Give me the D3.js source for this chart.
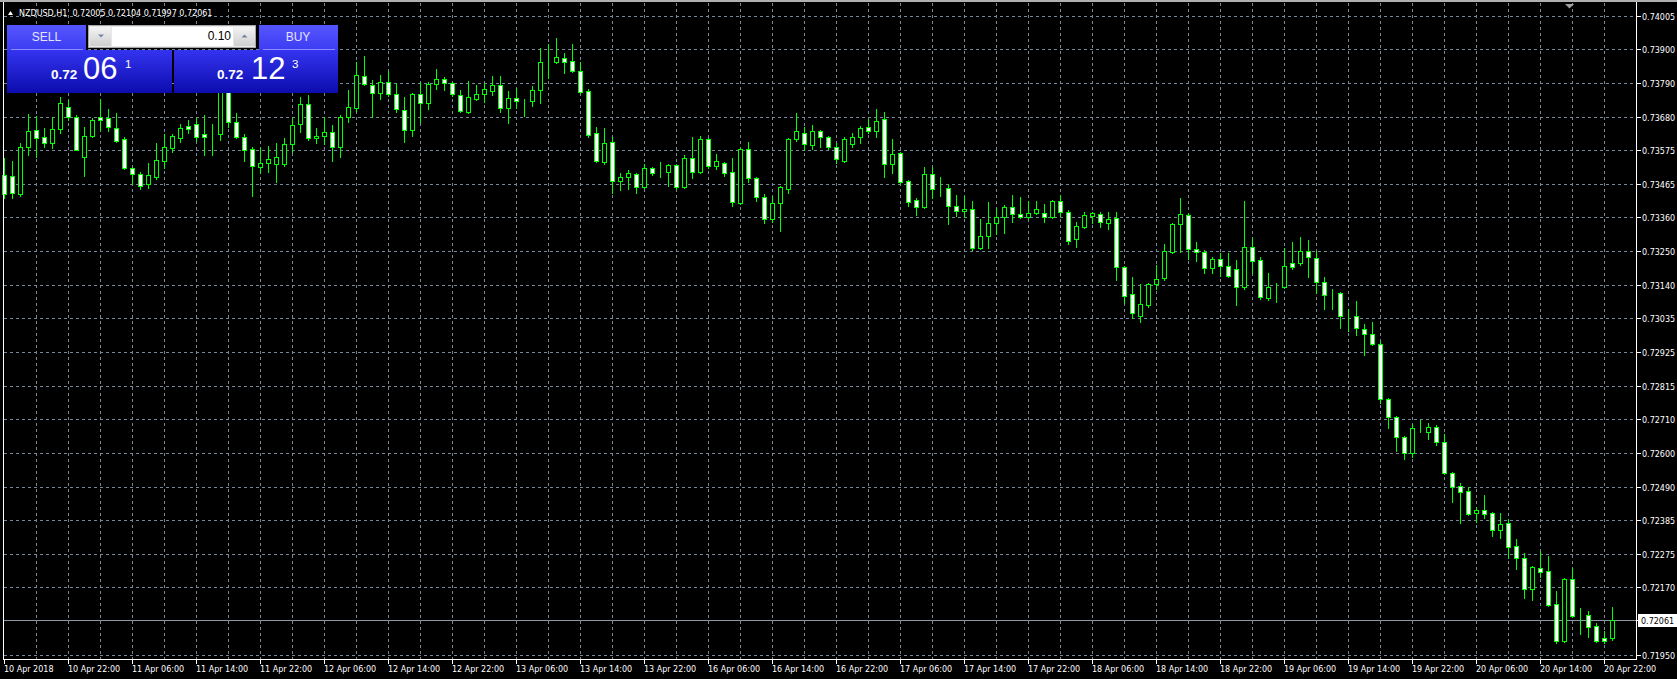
<!DOCTYPE html>
<html>
<head>
<meta charset="utf-8">
<title>NZDUSD,H1</title>
<script src="https://cdn.jsdelivr.net/npm/d3@7"></script>
<style>
  html, body { margin: 0; padding: 0; background: #000; overflow: hidden; }
  svg text { font-family: "Liberation Sans", Arial, sans-serif; }
  svg text.ax { font-family: "DejaVu Sans", sans-serif; font-size: 8px; }
</style>
</head>
<body>
<svg id="chart" width="1677" height="679"></svg>
<script>
// hourly bars, 10 Apr 2018 14:00 .. 20 Apr 2018 23:00
const opens = [0.73494,0.73490,0.73433,0.73584,0.73638,0.73616,0.73597,0.73642,0.73712,0.73680,
  0.73552,0.73619,0.73680,0.73677,0.73645,0.73610,0.73516,0.73497,0.73465,0.73487,
  0.73539,0.73581,0.73613,0.73651,0.73658,0.73626,0.73622,0.73626,0.73773,0.73664,
  0.73616,0.73577,0.73519,0.73532,0.73529,0.73529,0.73593,0.73658,0.73722,0.73613,
  0.73619,0.73632,0.73584,0.73680,0.73709,0.73812,0.73783,0.73757,0.73793,0.73754,
  0.73703,0.73638,0.73754,0.73725,0.73786,0.73802,0.73790,0.73751,0.73696,0.73738,
  0.73754,0.73764,0.73783,0.73709,0.73741,0.73732,0.73732,0.73767,0.73857,0.73857,
  0.73870,0.73860,0.73828,0.73764,0.73629,0.73535,0.73600,0.73474,0.73487,0.73497,
  0.73455,0.73516,0.73503,0.73503,0.73526,0.73455,0.73548,0.73503,0.73610,0.73523,
  0.73532,0.73503,0.73404,0.73577,0.73484,0.73423,0.73352,0.73404,0.73449,0.73610,
  0.73629,0.73590,0.73635,0.73616,0.73584,0.73539,0.73593,0.73616,0.73648,0.73635,
  0.73674,0.73529,0.73564,0.73474,0.73413,0.73391,0.73497,0.73449,0.73452,0.73394,
  0.73378,0.73384,0.73259,0.73298,0.73339,0.73359,0.73391,0.73368,0.73359,0.73372,
  0.73372,0.73359,0.73410,0.73375,0.73288,0.73327,0.73362,0.73368,0.73339,0.73355,
  0.73198,0.73111,0.73040,0.73076,0.73143,0.73163,0.73246,0.73336,0.73365,0.73256,
  0.73246,0.73195,0.73224,0.73201,0.73191,0.73134,0.73262,0.73220,0.73098,0.73134,
  0.73134,0.73211,0.73211,0.73249,0.73227,0.73150,0.73111,0.73114,0.73040,0.73040,
  0.72998,0.72982,0.72950,0.72773,0.72715,0.72651,0.72600,0.72680,0.72667,0.72683,
  0.72635,0.72535,0.72494,0.72477,0.72407,0.72416,0.72407,0.72352,0.72374,0.72301,
  0.72262,0.72162,0.72230,0.72220,0.72114,0.71995,0.72194,0.72075,0.72079,0.72043,
  0.72005,0.72005];
const highs = [0.73548,0.73539,0.73597,0.73690,0.73683,0.73645,0.73680,0.73745,0.73735,0.73687,
  0.73648,0.73677,0.73738,0.73706,0.73693,0.73616,0.73519,0.73503,0.73532,0.73597,
  0.73626,0.73626,0.73658,0.73671,0.73677,0.73687,0.73658,0.73786,0.73793,0.73693,
  0.73626,0.73584,0.73581,0.73587,0.73597,0.73613,0.73677,0.73745,0.73751,0.73645,
  0.73680,0.73655,0.73687,0.73767,0.73857,0.73876,0.73799,0.73815,0.73828,0.73790,
  0.73745,0.73757,0.73793,0.73793,0.73835,0.73809,0.73793,0.73767,0.73796,0.73783,
  0.73790,0.73812,0.73812,0.73764,0.73773,0.73738,0.73780,0.73902,0.73915,0.73934,
  0.73886,0.73915,0.73857,0.73770,0.73648,0.73645,0.73616,0.73500,0.73510,0.73500,
  0.73529,0.73519,0.73535,0.73529,0.73529,0.73558,0.73616,0.73619,0.73613,0.73561,
  0.73535,0.73548,0.73581,0.73600,0.73487,0.73433,0.73426,0.73458,0.73613,0.73693,
  0.73648,0.73655,0.73638,0.73619,0.73597,0.73616,0.73629,0.73651,0.73674,0.73706,
  0.73696,0.73610,0.73568,0.73478,0.73420,0.73519,0.73519,0.73487,0.73465,0.73429,
  0.73426,0.73410,0.73352,0.73407,0.73388,0.73397,0.73429,0.73423,0.73410,0.73410,
  0.73400,0.73413,0.73429,0.73381,0.73343,0.73375,0.73375,0.73375,0.73375,0.73375,
  0.73201,0.73166,0.73143,0.73146,0.73204,0.73272,0.73339,0.73420,0.73372,0.73278,
  0.73253,0.73230,0.73243,0.73243,0.73220,0.73410,0.73291,0.73230,0.73179,0.73146,
  0.73259,0.73278,0.73294,0.73285,0.73249,0.73166,0.73127,0.73117,0.73063,0.73089,
  0.73015,0.73021,0.72960,0.72777,0.72719,0.72654,0.72693,0.72706,0.72696,0.72690,
  0.72661,0.72538,0.72503,0.72490,0.72426,0.72465,0.72410,0.72407,0.72387,0.72323,
  0.72278,0.72236,0.72284,0.72268,0.72156,0.72198,0.72230,0.72101,0.72092,0.72053,
  0.72027,0.72104];
const lows = [0.73420,0.73420,0.73426,0.73558,0.73552,0.73584,0.73581,0.73629,0.73671,0.73574,
  0.73490,0.73616,0.73638,0.73635,0.73600,0.73513,0.73465,0.73449,0.73452,0.73481,
  0.73516,0.73568,0.73600,0.73629,0.73603,0.73558,0.73558,0.73606,0.73648,0.73613,
  0.73539,0.73426,0.73500,0.73503,0.73471,0.73523,0.73568,0.73632,0.73606,0.73597,
  0.73593,0.73539,0.73552,0.73664,0.73700,0.73783,0.73680,0.73738,0.73748,0.73696,
  0.73600,0.73619,0.73664,0.73706,0.73770,0.73767,0.73748,0.73696,0.73693,0.73735,
  0.73728,0.73751,0.73696,0.73661,0.73709,0.73683,0.73716,0.73725,0.73806,0.73854,
  0.73822,0.73825,0.73757,0.73616,0.73535,0.73529,0.73436,0.73445,0.73449,0.73436,
  0.73452,0.73494,0.73487,0.73458,0.73449,0.73452,0.73484,0.73500,0.73516,0.73513,
  0.73490,0.73394,0.73400,0.73471,0.73410,0.73339,0.73343,0.73314,0.73436,0.73603,
  0.73574,0.73577,0.73584,0.73577,0.73532,0.73535,0.73584,0.73597,0.73629,0.73616,
  0.73487,0.73500,0.73465,0.73394,0.73365,0.73388,0.73420,0.73426,0.73336,0.73362,
  0.73359,0.73253,0.73256,0.73259,0.73304,0.73307,0.73343,0.73355,0.73355,0.73368,
  0.73343,0.73355,0.73362,0.73272,0.73262,0.73323,0.73339,0.73327,0.73320,0.73156,
  0.73082,0.73034,0.73021,0.73069,0.73127,0.73156,0.73243,0.73246,0.73224,0.73217,
  0.73179,0.73179,0.73169,0.73166,0.73076,0.73127,0.73179,0.73095,0.73092,0.73085,
  0.73130,0.73191,0.73204,0.73166,0.73114,0.73063,0.73063,0.73002,0.72992,0.72979,
  0.72915,0.72947,0.72760,0.72680,0.72606,0.72580,0.72587,0.72667,0.72645,0.72625,
  0.72532,0.72442,0.72374,0.72400,0.72378,0.72391,0.72333,0.72326,0.72262,0.72227,
  0.72133,0.72127,0.72201,0.72108,0.71989,0.71992,0.72072,0.72018,0.72008,0.71992,
  0.71989,0.71997];
const closes = [0.73433,0.73436,0.73584,0.73635,0.73613,0.73597,0.73642,0.73725,0.73680,0.73574,
  0.73619,0.73671,0.73671,0.73648,0.73603,0.73516,0.73497,0.73458,0.73494,0.73542,
  0.73584,0.73619,0.73645,0.73642,0.73616,0.73616,0.73622,0.73773,0.73664,0.73616,
  0.73574,0.73523,0.73532,0.73545,0.73552,0.73593,0.73655,0.73722,0.73613,0.73619,
  0.73632,0.73584,0.73680,0.73712,0.73815,0.73786,0.73757,0.73793,0.73754,0.73706,
  0.73638,0.73754,0.73725,0.73786,0.73802,0.73790,0.73754,0.73700,0.73745,0.73754,
  0.73770,0.73783,0.73709,0.73741,0.73732,0.73732,0.73767,0.73857,0.73857,0.73873,
  0.73857,0.73828,0.73761,0.73622,0.73539,0.73597,0.73474,0.73487,0.73500,0.73455,
  0.73516,0.73500,0.73503,0.73526,0.73455,0.73548,0.73503,0.73610,0.73523,0.73539,
  0.73500,0.73407,0.73577,0.73484,0.73423,0.73352,0.73404,0.73455,0.73610,0.73635,
  0.73593,0.73635,0.73616,0.73584,0.73545,0.73610,0.73616,0.73645,0.73635,0.73667,
  0.73529,0.73561,0.73471,0.73407,0.73391,0.73497,0.73449,0.73449,0.73394,0.73378,
  0.73384,0.73259,0.73298,0.73339,0.73359,0.73391,0.73368,0.73359,0.73372,0.73384,
  0.73359,0.73410,0.73375,0.73281,0.73330,0.73365,0.73372,0.73343,0.73352,0.73198,
  0.73105,0.73050,0.73079,0.73143,0.73159,0.73249,0.73336,0.73368,0.73256,0.73246,
  0.73195,0.73224,0.73201,0.73169,0.73134,0.73262,0.73217,0.73101,0.73134,0.73134,
  0.73201,0.73198,0.73249,0.73230,0.73150,0.73108,0.73111,0.73040,0.73040,0.73002,
  0.72982,0.72950,0.72773,0.72715,0.72651,0.72600,0.72680,0.72680,0.72683,0.72635,
  0.72535,0.72490,0.72474,0.72403,0.72416,0.72403,0.72352,0.72371,0.72297,0.72262,
  0.72162,0.72233,0.72217,0.72111,0.71995,0.72194,0.72075,0.72075,0.72040,0.71995,
  0.71995,0.72061];

const priceTicks = [0.74005,0.73900,0.73790,0.73680,0.73575,0.73465,0.73360,0.73250,0.73140,0.73035,
  0.72925,0.72815,0.72710,0.72600,0.72490,0.72385,0.72275,0.72170,0.72061,0.71950];
const timeTicks = ["10 Apr 2018","10 Apr 22:00","11 Apr 06:00","11 Apr 14:00","11 Apr 22:00",
  "12 Apr 06:00","12 Apr 14:00","12 Apr 22:00","13 Apr 06:00","13 Apr 14:00","13 Apr 22:00",
  "16 Apr 06:00","16 Apr 14:00","16 Apr 22:00","17 Apr 06:00","17 Apr 14:00","17 Apr 22:00",
  "18 Apr 06:00","18 Apr 14:00","18 Apr 22:00","19 Apr 06:00","19 Apr 14:00","19 Apr 22:00",
  "20 Apr 06:00","20 Apr 14:00","20 Apr 22:00"];

const symbol = "NZDUSD,H1";
const bid = 0.72061;
const lotSize = "0.10";
const sellQuote = ["0.72", "06", "1"];
const buyQuote = ["0.72", "12", "3"];

// bar times (weekend skipped)
const barTimes = [];
let t = Date.UTC(2018, 3, 10, 14);
while (barTimes.length < opens.length) {
  const d = new Date(t);
  if (d.getUTCDay() !== 0 && d.getUTCDay() !== 6) barTimes.push(d);
  t += 3600000;
}
const fmt = d3.utcFormat("%d %b %H:%M");

const W = 1677, H = 679;
const svg = d3.select("#chart");

const x = d3.scalePoint().domain(d3.range(opens.length)).range([4, 4 + 8 * (opens.length - 1)]);
const y = d3.scaleLinear().domain([0.71950, 0.74005]).range([655, 16]);
const px = i => Math.round(x(i)) + 0.5;
const py = p => Math.round(y(p)) + 0.5;

svg.append("rect").attr("width", W).attr("height", H).attr("fill", "#000");
svg.append("rect").attr("width", W).attr("height", 2).attr("fill", "#b0b0b0");

const plotL = 3.5, plotR = 1636.5, plotB = 659.5;

// grid
const grid = svg.append("g").attr("stroke", "#778899").attr("stroke-dasharray", "3,3")
  .attr("shape-rendering", "crispEdges");
grid.selectAll("line.h").data(priceTicks.filter(p => p !== bid)).enter().append("line")
  .attr("x1", plotL).attr("x2", plotR).attr("y1", d => py(d)).attr("y2", d => py(d));
grid.selectAll("line.v").data(d3.range(4, opens.length, 4)).enter().append("line")
  .attr("x1", d => px(d)).attr("x2", d => px(d)).attr("y1", 3).attr("y2", plotB);

// bid line
svg.append("line").attr("x1", plotL).attr("x2", plotR).attr("y1", py(bid)).attr("y2", py(bid))
  .attr("stroke", "#8c98a6").attr("shape-rendering", "crispEdges");

// candles
const candles = svg.append("g").attr("shape-rendering", "crispEdges");
const bars = candles.selectAll("g").data(d3.range(opens.length)).enter().append("g");
bars.append("line")
  .attr("x1", i => px(i)).attr("x2", i => px(i))
  .attr("y1", i => py(highs[i]) - 0.5).attr("y2", i => py(lows[i]) + 0.5)
  .attr("stroke", "#00ff00");
bars.append("rect")
  .attr("x", i => px(i) - 2).attr("width", 4)
  .attr("y", i => Math.min(py(opens[i]), py(closes[i])))
  .attr("height", i => Math.abs(py(opens[i]) - py(closes[i])))
  .attr("fill", i => closes[i] < opens[i] ? "#ffffff" : "#000000")
  .attr("stroke", "#00ff00");

// frame
const frame = svg.append("g").attr("stroke", "#ffffff").attr("shape-rendering", "crispEdges");
frame.append("line").attr("x1", plotL).attr("x2", plotL).attr("y1", 2).attr("y2", plotB);
frame.append("line").attr("x1", plotR).attr("x2", plotR).attr("y1", 2).attr("y2", plotB);
frame.append("line").attr("x1", plotL).attr("x2", plotR).attr("y1", plotB).attr("y2", plotB);

// price axis
const yAxis = svg.append("g");
yAxis.selectAll("line").data(priceTicks).enter().append("line")
  .attr("x1", plotR).attr("x2", plotR + 4).attr("y1", d => py(d)).attr("y2", d => py(d))
  .attr("stroke", "#fff").attr("shape-rendering", "crispEdges");
yAxis.selectAll("text").data(priceTicks.filter(p => p !== bid)).enter().append("text")
  .attr("class", "ax").attr("x", 1642).attr("y", d => py(d) + 3)
  .attr("fill", "#fff").text(d => d.toFixed(5));
yAxis.append("rect").attr("x", 1638).attr("y", py(bid) - 6.5).attr("width", 39).attr("height", 13)
  .attr("fill", "#fff");
yAxis.append("text").attr("class", "ax").attr("x", 1641).attr("y", py(bid) + 3)
  .attr("fill", "#000").text(bid.toFixed(5));

// time axis
const tickBars = timeTicks.map((lab, k) => k === 0 ? 0 : barTimes.findIndex(d => fmt(d) === lab));
const xAxis = svg.append("g");
xAxis.selectAll("line").data(tickBars).enter().append("line")
  .attr("x1", d => px(d)).attr("x2", d => px(d)).attr("y1", plotB).attr("y2", plotB + 4)
  .attr("stroke", "#fff").attr("shape-rendering", "crispEdges");
xAxis.selectAll("text").data(timeTicks).enter().append("text")
  .attr("class", "ax").attr("x", (d, k) => px(tickBars[k]) - 0.5).attr("y", 672)
  .attr("fill", "#fff").text(d => d);

// header
const n = opens.length - 1;
svg.append("path").attr("d", "M8,15 L13,15 L10.5,11 Z").attr("fill", "#fff");
svg.append("text").attr("class", "ax").attr("x", 19).attr("y", 15.5).attr("fill", "#fff")
  .attr("xml:space", "preserve")
  .text(symbol + "  " + [opens[n], highs[n], lows[n], closes[n]].map(v => v.toFixed(5)).join(" "));
svg.append("path").attr("d", "M1565,4 L1574,4 L1569.5,8.5 Z").attr("fill", "#a0a0a0");

// one click trading panel
const defs = svg.append("defs");
function grad(id, c1, c2) {
  const g = defs.append("linearGradient").attr("id", id).attr("x1", 0).attr("y1", 0).attr("x2", 0).attr("y2", 1);
  g.append("stop").attr("offset", "0%").attr("stop-color", c1);
  g.append("stop").attr("offset", "100%").attr("stop-color", c2);
}
grad("btn", "#5656ff", "#3c3cf2");
grad("quote", "#3434f0", "#0c0cae");
grad("spin", "#f4f4f4", "#cfcfcf");

const panel = svg.append("g").attr("shape-rendering", "crispEdges");
[[7, 86], [259, 338]].forEach(([a, b]) => {
  panel.append("rect").attr("x", a).attr("y", 25).attr("width", b - a).attr("height", 25).attr("fill", "url(#btn)");
  panel.append("line").attr("x1", a + 4).attr("x2", b - 3).attr("y1", 49.5).attr("y2", 49.5).attr("stroke", "#8c8cff");
});
panel.append("rect").attr("x", 7).attr("y", 50).attr("width", 165).attr("height", 43).attr("fill", "url(#quote)");
panel.append("rect").attr("x", 174).attr("y", 50).attr("width", 164).attr("height", 43).attr("fill", "url(#quote)");
panel.append("rect").attr("x", 88.5).attr("y", 25.5).attr("width", 167).attr("height", 22).attr("fill", "#e8e8e8").attr("stroke", "#a8a8a8");
panel.append("rect").attr("x", 90).attr("y", 27).attr("width", 21).attr("height", 19).attr("fill", "url(#spin)");
panel.append("rect").attr("x", 234).attr("y", 27).attr("width", 21).attr("height", 19).attr("fill", "url(#spin)");
panel.append("rect").attr("x", 112).attr("y", 27).attr("width", 121).attr("height", 19).attr("fill", "#fff");
svg.append("path").attr("d", "M98,34.5 L104,34.5 L101,37.5 Z").attr("fill", "#7484a4");
svg.append("path").attr("d", "M241.5,37.5 L247.5,37.5 L244.5,34.5 Z").attr("fill", "#7484a4");

svg.append("text").attr("x", 231).attr("y", 39.5).attr("text-anchor", "end").attr("font-size", 12)
  .attr("fill", "#000").text(lotSize);
svg.append("text").attr("x", 46.5).attr("y", 40.5).attr("text-anchor", "middle").attr("font-size", 12)
  .attr("fill", "#e4e4ff").text("SELL");
svg.append("text").attr("x", 298).attr("y", 40.5).attr("text-anchor", "middle").attr("font-size", 12)
  .attr("fill", "#e4e4ff").text("BUY");

function quote(q, x0, x1, x2) {
  svg.append("text").attr("x", x0).attr("y", 79).attr("font-size", 13.5).attr("font-weight", "bold")
    .attr("fill", "#fff").text(q[0]);
  svg.append("text").attr("x", x1).attr("y", 79).attr("font-size", 31).attr("fill", "#fff").text(q[1]);
  svg.append("text").attr("x", x2).attr("y", 68).attr("font-size", 11.5).attr("fill", "#fff").text(q[2]);
}
quote(sellQuote, 51, 83, 125);
quote(buyQuote, 217, 251, 292);
</script>
</body>
</html>
